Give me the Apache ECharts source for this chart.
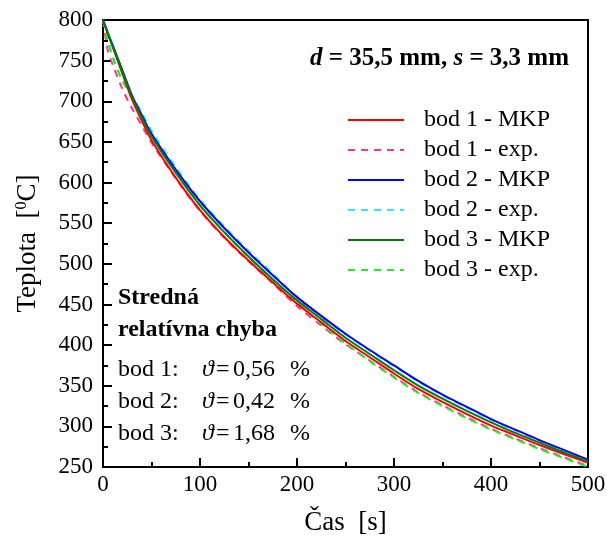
<!DOCTYPE html>
<html>
<head>
<meta charset="utf-8">
<script src="https://cdn.jsdelivr.net/npm/echarts@6/dist/echarts.min.js"></script>
<style>
  html, body { margin: 0; padding: 0; background: #fff; }
  #main { width: 607px; height: 543px; }
</style>
</head>
<body>
<div id="main"></div>
<script>
  // casy [s]
  var times = [0, 5, 10, 20, 30, 40, 50, 75, 100, 125, 150, 175, 200, 225, 250, 275, 300, 325, 350, 375, 400, 425, 450, 475, 500];

  // bod 1
  var bod1Mkp = [800, 783, 767, 734, 702, 676, 652, 606, 566, 533, 504, 477, 451, 428, 405, 385, 365, 346, 330, 315, 301, 289, 277, 266, 255];
  var bod1Exp = [800, 762, 745, 715, 691, 670, 649, 605, 565, 532, 503, 476, 448, 424, 401, 381, 361, 342, 326, 311, 297, 285, 273, 262, 251];
  // bod 2
  var bod2Mkp = [800, 784, 769, 738, 707, 683, 660, 616, 577, 544, 514, 486, 459, 436, 414, 394, 375, 356, 339, 324, 309, 296, 283, 271, 259];
  var bod2Exp = [800, 775, 755, 726, 706, 686, 664, 619, 579, 546, 516, 488, 459, 435, 413, 393, 374, 355, 338, 323, 308, 295, 282, 270, 258];
  // bod 3
  var bod3Mkp = [800, 784, 768, 736, 705, 680, 657, 612, 572, 539, 509, 481, 455, 432, 409, 389, 369, 350, 334, 319, 305, 292, 280, 268, 257];
  var bod3Exp = [800, 774, 754, 725, 704, 682, 660, 613, 572, 539, 508, 480, 452, 426, 402, 380, 360, 341, 325, 310, 296, 284, 272, 261, 250];

  var seriesNames = ['bod 1 - MKP', 'bod 1 - exp.', 'bod 2 - MKP', 'bod 2 - exp.', 'bod 3 - MKP', 'bod 3 - exp.'];
  var seriesColors = ['#ff0000', '#ff3399', '#0000ff', '#33e6ff', '#008000', '#22ee22'];

  // stredna relativna chyba [%]
  var errRows = ['bod 1:', 'bod 2:', 'bod 3:'];
  var errValues = ['0,56', '0,42', '1,68'];

  var serif = '"Liberation Serif", "Times New Roman", serif';

  function makeSeries(i, vals, dashed) {
    return {
      name: seriesNames[i],
      type: 'line',
      smooth: 0.3,
      symbol: 'none',
      z: dashed ? 2 : 3,
      data: times.map(function (t, k) { return [t, vals[k]]; }),
      lineStyle: {
        color: seriesColors[i],
        width: 2,
        type: dashed ? [7, 6] : 'solid'
      },
      itemStyle: { color: seriesColors[i] }
    };
  }

  function txt(w, italic) {
    var s = { fontFamily: serif, fontSize: 24, fontWeight: 'normal', color: '#000' };
    if (w) s.width = w;
    if (italic) s.fontStyle = 'italic';
    return s;
  }

  var titles = [{
    text: '{i|d} = 35,5 mm, {i|s} = 3,3 mm',
    left: 310, top: 46, padding: 0,
    textStyle: {
      fontFamily: serif, fontWeight: 'bold', fontSize: 25, color: '#000',
      rich: { i: { fontFamily: serif, fontWeight: 'bold', fontStyle: 'italic', fontSize: 25, color: '#000' } }
    }
  }, {
    text: 'Stredná',
    left: 118, top: 286, padding: 0,
    textStyle: { fontFamily: serif, fontWeight: 'bold', fontSize: 24, color: '#000' }
  }, {
    text: 'relatívna chyba',
    left: 118, top: 318, padding: 0,
    textStyle: { fontFamily: serif, fontWeight: 'bold', fontSize: 24, color: '#000' }
  }];
  errRows.forEach(function (r, k) {
    titles.push({
      text: '{a|' + r + '}{t|ϑ}{e|=}{n|' + errValues[k] + '}{p|%}',
      left: 118, top: 358 + k * 32, padding: 0,
      textStyle: {
        fontFamily: serif, fontSize: 24, fontWeight: 'normal', color: '#000',
        rich: { a: txt(84), t: txt(14, true), e: txt(17), n: txt(57), p: txt(0) }
      }
    });
  });

  var chart = echarts.init(document.getElementById('main'));
  chart.setOption({
    animation: false,
    backgroundColor: '#fff',
    title: titles,
    grid: {
      left: 103, right: 19, top: 20, bottom: 76,
      show: true, borderColor: '#000', borderWidth: 2,
      containLabel: false, outerBoundsMode: 'none'
    },
    legend: {
      orient: 'vertical',
      left: 347, top: 108, padding: 0,
      itemWidth: 56, itemHeight: 14, itemGap: 6,
      itemStyle: { opacity: 0 },
      data: seriesNames,
      textStyle: { fontFamily: serif, fontSize: 24, color: '#000', lineHeight: 24, padding: [0, 0, 0, 15] }
    },
    xAxis: {
      type: 'value', min: 0, max: 500, interval: 100,
      name: 'Čas  [s]', nameLocation: 'middle', nameGap: 42,
      nameTextStyle: { fontFamily: serif, fontSize: 27, color: '#000' },
      axisLine: { lineStyle: { color: '#000', width: 2 } },
      axisTick: { inside: true, length: 9, lineStyle: { color: '#000', width: 2 } },
      minorTick: { show: true, splitNumber: 2, length: 5, lineStyle: { color: '#000', width: 2 } },
      axisLabel: { fontFamily: serif, fontSize: 23, color: '#000', margin: 6 },
      splitLine: { show: false }
    },
    yAxis: {
      type: 'value', min: 250, max: 800, interval: 50,
      name: 'Teplota  [{s|0}C]', nameLocation: 'middle', nameGap: 62, nameRotate: 90,
      nameTextStyle: {
        fontFamily: serif, fontSize: 27, color: '#000',
        rich: { s: { fontFamily: serif, fontSize: 16, color: '#000', verticalAlign: 'top' } }
      },
      axisLine: { lineStyle: { color: '#000', width: 2 } },
      axisTick: { inside: true, length: 9, lineStyle: { color: '#000', width: 2 } },
      minorTick: { show: true, splitNumber: 2, length: 5, lineStyle: { color: '#000', width: 2 } },
      axisLabel: { fontFamily: serif, fontSize: 23, color: '#000', margin: 10 },
      splitLine: { show: false }
    },
    series: [
      makeSeries(0, bod1Mkp, false),
      makeSeries(1, bod1Exp, true),
      makeSeries(2, bod2Mkp, false),
      makeSeries(3, bod2Exp, true),
      makeSeries(4, bod3Mkp, false),
      makeSeries(5, bod3Exp, true)
    ]
  });
</script>
</body>
</html>
